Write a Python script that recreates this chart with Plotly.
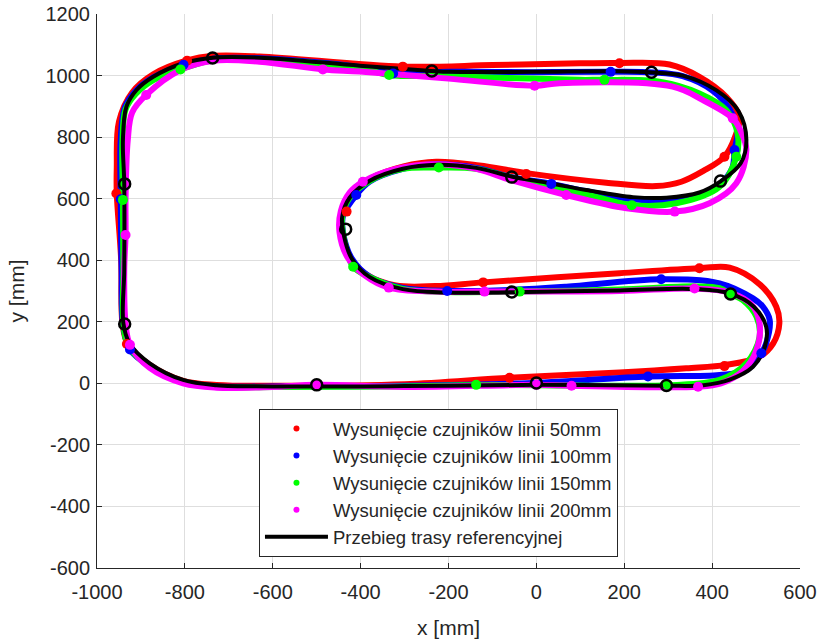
import plotly.graph_objects as go

# ---- axis ticks ----
x_ticks = [-1000, -800, -600, -400, -200, 0, 200, 400, 600]
x_ticklabels = ["-1000", "-800", "-600", "-400", "-200", "0", "200", "400", "600"]
y_ticks = [-600, -400, -200, 0, 200, 400, 600, 800, 1000, 1200]
y_ticklabels = ["-600", "-400", "-200", "0", "200", "400", "600", "800", "1000", "1200"]

# ---- reference path (black) ----
ref_x = [-600, -300, 0, 296, 380, 440, 493, 520, 523, 495, 440, 364, 189, -53, -205, -304, -379, -420, -438, -442,
         -425, -379, -304, -228, -137, -57, 30, 114, 220, 296, 371, 420, 465, 478, 460, 410, 333, 265, 182, -7,
         -197, -239, -402, -630, -736, -804, -872, -910, -933, -941, -938, -938, -940, -926, -880, -804, -728, -600]
ref_y = [-10, -9, -5, -8, -6, 12, 54, 119, 184, 249, 292, 306, 302, 296, 295, 306, 345, 405, 480, 540,
         603, 658, 697, 710, 700, 672, 650, 628, 605, 603, 620, 657, 715, 791, 885, 952, 1000, 1010, 1014, 1012,
         1012, 1015, 1032, 1058, 1058, 1040, 996, 953, 899, 791, 650, 368, 195, 130, 65, 11, -6, -10]
ref_mx = [-737, -238, 262, -937, -937, -500, 0, 296, 442, -56, -434, -56, 419]
ref_my = [1057, 1015, 1011, 648, 193, -5, 1, -7, 290, 297, 501, 670, 657]

# ---- 50 mm (red) ----
s50_x = [-600, -300, -61, 189, 341, 432, 508, 539, 553, 546, 508, 440, 371, 189, -121, -230, -320, -385, -424, -442,
         -440, -423, -378, -302, -228, -130, -23, 159, 273, 330, 380, 428, 452, 462, 432, 371, 303, 189, 98, -100,
         -304, -630, -736, -795, -872, -920, -950, -955, -955, -945, -942, -930, -882, -804, -728, -600]
s50_y = [-8, -3, 18, 35, 49, 60, 87, 130, 195, 249, 322, 376, 374, 358, 328, 316, 318, 352, 408, 490,
         560, 612, 665, 705, 720, 708, 683, 652, 641, 655, 690, 736, 800, 866, 931, 996, 1036, 1041, 1040, 1034,
         1029, 1062, 1064, 1049, 1004, 945, 850, 700, 617, 400, 195, 128, 62, 8, -5, -8]
s50_mx = [-795, -304, 189, 428, -23, -432, -121, 371, 428, -61, -956, -932]
s50_my = [1048, 1029, 1040, 736, 680, 558, 328, 374, 56, 18, 617, 128]

# ---- 100 mm (blue) ----
s100_x = [-600, -300, -8, 254, 417, 478, 512, 523, 531, 515, 493, 417, 284, 68, -53, -203, -304, -379, -420, -440,
          -440, -410, -379, -304, -228, -137, -57, 34, 114, 220, 280, 371, 420, 446, 451, 458, 440, 400, 333, 266,
          166, -7, -197, -326, -402, -630, -736, -803, -872, -912, -937, -946, -946, -944, -941, -925, -880, -804,
          -728, -600]
s100_y = [-10, -8, 1, 22, 27, 43, 98, 130, 206, 250, 276, 325, 338, 314, 304, 300, 310, 346, 405, 490,
          545, 612, 656, 697, 712, 700, 670, 648, 624, 598, 594, 610, 650, 700, 758, 820, 890, 952, 998, 1010,
          1012, 1011, 1012, 1008, 1028, 1056, 1055, 1035, 994, 950, 895, 790, 598, 368, 195, 110, 55, 5,
          -10, -10]
s100_mx = [169, 451, 34, -410, -203, 284, 512, 254, -925, -946, -803, -326]
s100_my = [1012, 758, 648, 612, 300, 338, 98, 22, 110, 598, 1035, 1007]

# ---- 150 mm (green) ----
s150_x = [-600, -300, -137, 0, 299, 417, 478, 508, 501, 470, 442, 417, 364, 189, -38, -205, -304, -379, -417, -438,
          -442, -425, -379, -304, -222, -137, -57, 30, 114, 217, 318, 417, 455, 458, 432, 371, 280, 155, 98, -200,
          -335, -402, -630, -736, -810, -872, -912, -935, -942, -941, -940, -940, -928, -880, -804, -728, -600]
s150_y = [-12, -10, -6, -6, -6, 11, 65, 151, 216, 270, 290, 309, 315, 305, 298, 297, 307, 345, 379, 470,
          540, 603, 658, 697, 701, 697, 668, 640, 614, 579, 585, 639, 736, 812, 888, 942, 980, 986, 986, 998,
          1002, 1025, 1052, 1050, 1020, 985, 940, 890, 790, 596, 368, 195, 120, 55, 3, -12, -12]
s150_mx = [-810, -335, 155, 455, -222, 217, -417, -38, 442, 299, -137, -941]
s150_my = [1020, 1002, 986, 736, 701, 579, 379, 298, 290, -5, -5, 596]

# ---- 200 mm (magenta) ----
s200_x = [-600, -500, -300, 0, 80, 368, 420, 470, 501, 508, 490, 440, 360, 189, -118, -230, -336, -390, -430, -448,
          -445, -425, -395, -320, -228, -137, -57, 68, 205, 315, 394, 455, 478, 465, 447, 378, 310, 53, -4, -200,
          -402, -486, -630, -736, -810, -888, -920, -930, -935, -935, -938, -935, -925, -880, -804, -728, -600]
s200_y = [-12, -5, -12, -5, -8, -11, 0, 40, 108, 195, 255, 295, 308, 300, 298, 298, 311, 350, 410, 490,
          560, 620, 655, 697, 712, 697, 660, 612, 569, 558, 585, 650, 758, 820, 861, 921, 964, 975, 967, 990,
          1013, 1020, 1045, 1048, 1018, 937, 880, 790, 600, 482, 368, 195, 125, 50, 0, -14, -12]
s200_mx = [-888, -486, -4, 447, 315, 68, -395, -336, -118, 360, 368, 80, 0, -500, -925, -935]
s200_my = [937, 1020, 967, 861, 558, 612, 655, 311, 298, 308, -11, -8, -5, -5, 125, 482]

names = ["Wysunięcie czujników linii 50mm", "Wysunięcie czujników linii 100mm",
         "Wysunięcie czujników linii 150mm", "Wysunięcie czujników linii 200mm"]
ref_name = "Przebieg trasy referencyjnej"
colors = ["#ff0000", "#0000ff", "#00ff00", "#ff00ff"]

series = [(s50_x, s50_y, s50_mx, s50_my), (s100_x, s100_y, s100_mx, s100_my),
          (s150_x, s150_y, s150_mx, s150_my), (s200_x, s200_y, s200_mx, s200_my)]

fig = go.Figure()
for (sx, sy, mx, my), c in zip(series, colors):
    fig.add_trace(go.Scatter(x=sx, y=sy, mode="lines", line=dict(color=c, width=6, shape="spline", smoothing=1.0),
                             showlegend=False, hoverinfo="skip"))
fig.add_trace(go.Scatter(x=ref_x, y=ref_y, mode="lines", line=dict(color="black", width=4, shape="spline", smoothing=1.0),
                         showlegend=False, hoverinfo="skip"))
for (sx, sy, mx, my), c in zip(series, colors):
    fig.add_trace(go.Scatter(x=mx, y=my, mode="markers", marker=dict(color=c, size=10),
                             showlegend=False, hoverinfo="skip"))
fig.add_trace(go.Scatter(x=ref_mx, y=ref_my, mode="markers",
                         marker=dict(symbol="circle-open", color="black", size=11, line=dict(width=2.5, color="black")),
                         showlegend=False, hoverinfo="skip"))
# legend entries
for n, c in zip(names, colors):
    fig.add_trace(go.Scatter(x=[None], y=[None], mode="markers", marker=dict(color=c, size=6), name=n))
fig.add_trace(go.Scatter(x=[None], y=[None], mode="lines", line=dict(color="black", width=4), name=ref_name))

font_family = "Liberation Sans, Arial, Helvetica, sans-serif"
axis_common = dict(showline=True, linecolor="#262626", linewidth=1, ticks="inside", ticklen=5,
                   tickcolor="#262626", showgrid=True, gridcolor="#dedede", gridwidth=1, zeroline=False,
                   tickfont=dict(family=font_family, size=20, color="#262626"), mirror=False,
                   automargin=False)
fig.update_xaxes(range=[-1000, 600], tickvals=x_ticks, ticktext=x_ticklabels, ticklabelstandoff=6,
                 title=dict(text="x [mm]", standoff=18, font=dict(family=font_family, size=21, color="#262626")),
                 **axis_common)
fig.update_yaxes(range=[-600, 1200], tickvals=y_ticks, ticktext=y_ticklabels, ticklabelstandoff=2,
                 title=dict(text="y [mm]", font=dict(family=font_family, size=21, color="#262626")),
                 **axis_common)
fig.update_layout(
    width=820, height=641,
    margin=dict(l=97, r=20, t=14, b=73, autoexpand=False),
    plot_bgcolor="white", paper_bgcolor="white",
    legend=dict(x=0.2304, y=0.287, xanchor="left", yanchor="top", bgcolor="white",
                bordercolor="#262626", borderwidth=1, itemwidth=63,
                font=dict(family=font_family, size=18.5, color="#262626")),
)
fig.write_html("out.html")
